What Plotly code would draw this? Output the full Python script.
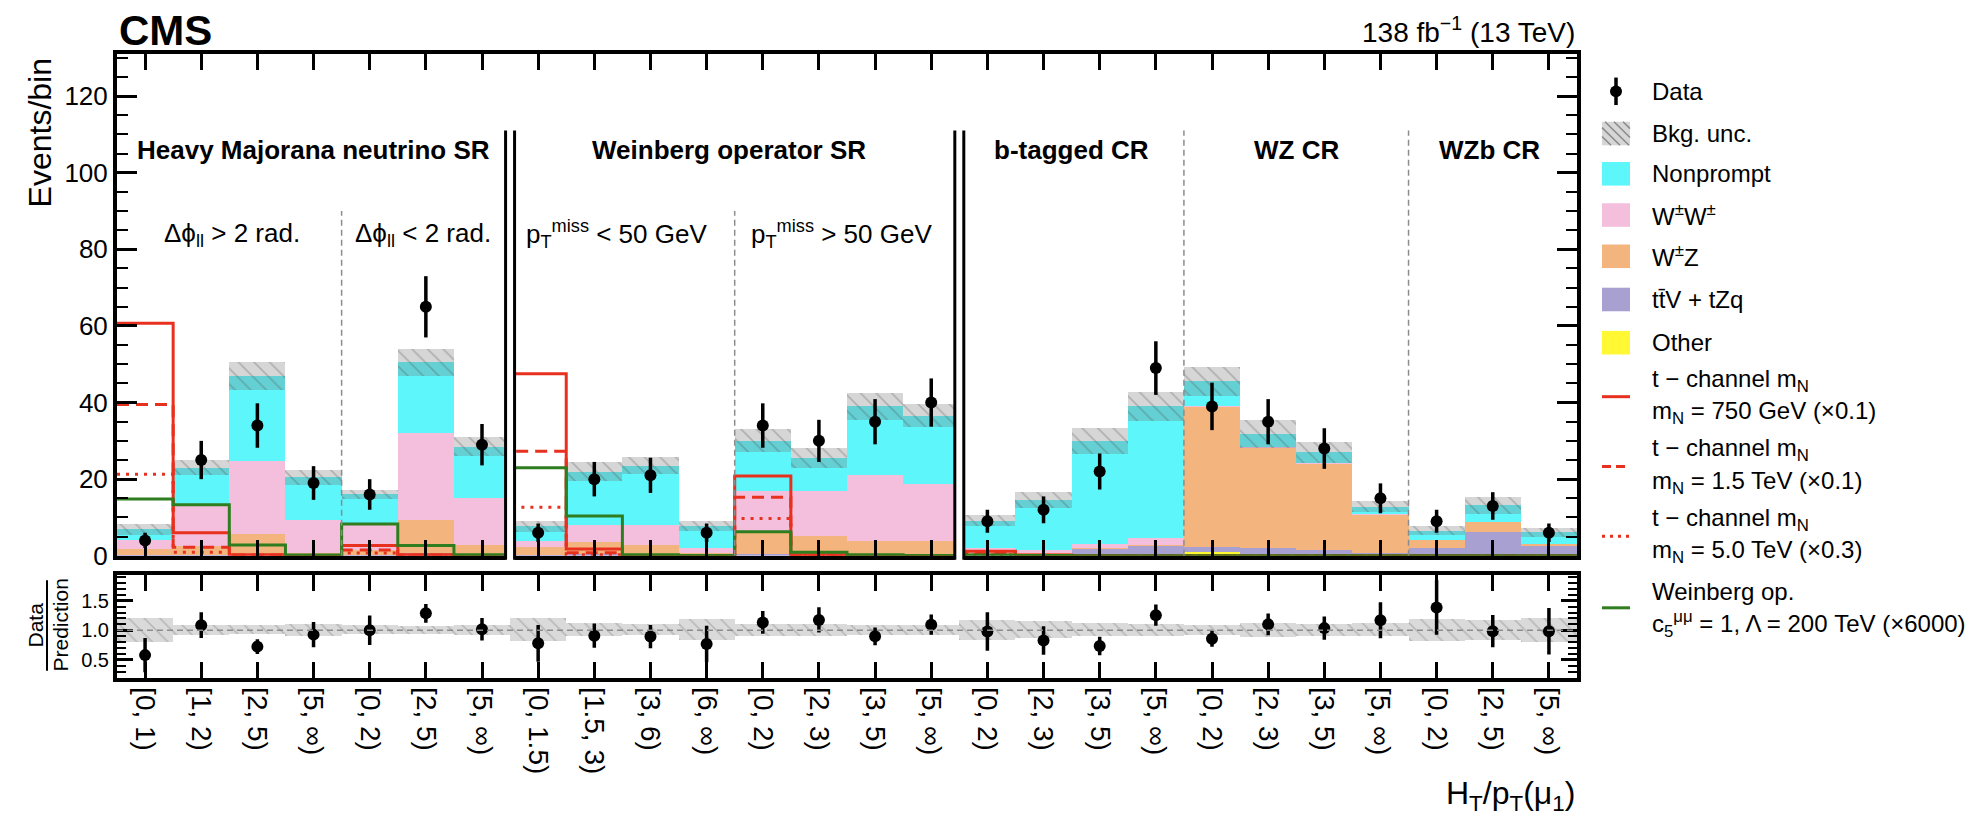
import plotly.graph_objects as go

W, H = 1980, 830

# H_T / p_T(mu1) bins of each region
bin_labels = [
    "[0, 1)", "[1, 2)", "[2, 5)", "[5, ∞)",
    "[0, 2)", "[2, 5)", "[5, ∞)",
    "[0, 1.5)", "[1.5, 3)", "[3, 6)", "[6, ∞)",
    "[0, 2)", "[2, 3)", "[3, 5)", "[5, ∞)",
    "[0, 2)", "[2, 3)", "[3, 5)", "[5, ∞)",
    "[0, 2)", "[2, 3)", "[3, 5)", "[5, ∞)",
    "[0, 2)", "[2, 5)", "[5, ∞)",
]

# background yields per bin
other = [0, 0, 0, 0, 0, 0, 0, 0, 0, 0, 0, 0, 0, 0, 0,
         0, 0, 0, 0, 1.0, 0.2, 0.2, 0.1, 0, 0, 0]
ttv = [0.2, 0.3, 0.5, 0.2, 0.2, 0.8, 0.3, 0.3, 0.5, 0.4, 0.2, 0.5, 0.5, 0.4, 0.4,
       0.4, 0.5, 1.8, 2.6, 1.3, 1.7, 1.2, 0.7, 1.9, 6.1, 2.5]
wz = [1.6, 2.2, 5.1, 0.6, 1.3, 8.6, 2.5, 1.9, 3.0, 2.4, 0.4, 5.6, 4.7, 3.4, 3.4,
      0.2, 0.3, 0.1, 0.1, 36.7, 26.3, 22.6, 10.0, 2.1, 2.7, 0.7]
ww = [2.2, 10.5, 19.1, 8.5, 7.0, 22.6, 12.4, 1.6, 4.5, 5.2, 1.3, 10.9, 11.8, 17.4, 15.0,
      1.3, 0.8, 1.3, 2.0, 0.2, 0.1, 0.1, 0.1, 0.0, 0.0, 0.0]
nonprompt = [2.9, 10.0, 22.3, 11.2, 7.5, 18.5, 13.3, 3.9, 14.0, 15.5, 5.9, 13.0, 8.5, 17.8, 17.7,
             7.3, 12.9, 26.8, 34.3, 6.3, 3.5, 2.9, 1.9, 2.5, 4.4, 2.9]
bkg_unc = [1.4, 2.0, 3.6, 2.0, 1.2, 3.6, 2.4, 1.5, 2.4, 2.2, 1.4, 3.0, 2.7, 3.5, 3.0,
           1.5, 2.1, 3.3, 3.8, 3.7, 3.6, 2.8, 1.4, 1.2, 2.2, 1.2]

# observed events
data = [4, 25, 34, 19, 16, 65, 29, 6, 20, 21, 6, 34, 30, 35, 40,
        9, 12, 22, 49, 39, 35, 28, 15, 9, 13, 6]
data_err = [2.0, 5.0, 5.8, 4.4, 4.0, 8.0, 5.4, 2.4, 4.5, 4.6, 2.4, 5.8, 5.5, 5.9, 6.3,
            3.0, 3.5, 4.7, 7.0, 6.2, 5.9, 5.3, 3.9, 3.0, 3.6, 2.4]

# signal hypotheses (scaled)
sig_750 = [60.7, 6.0, 0.3, 0.1, 2.7, 0.3, 0.1, 47.5, 1.8, 0.1, 0.0, 20.8, 0.3, 0.1, 0.0,
           1.2, 0.2, 0.1, 0.0, 0.0, 0.0, 0.0, 0.0, 0.1, 0.0, 0.0]
sig_1500 = [39.5, 2.2, 0.2, 0.1, 1.5, 0.2, 0.1, 27.3, 0.8, 0.1, 0.0, 15.3, 0.2, 0.1, 0.0,
            0.8, 0.1, 0.0, 0.0, 0.0, 0.0, 0.0, 0.0, 0.0, 0.0, 0.0]
sig_5000 = [21.3, 0.9, 0.1, 0.0, 0.7, 0.1, 0.0, 12.7, 0.3, 0.0, 0.0, 9.7, 0.1, 0.0, 0.0,
            0.3, 0.0, 0.0, 0.0, 0.0, 0.0, 0.0, 0.0, 0.0, 0.0, 0.0]
sig_weinberg = [14.8, 13.3, 2.8, 0.2, 8.3, 2.7, 0.3, 23.0, 10.4, 0.3, 0.1, 6.3, 0.9, 0.3, 0.1,
                0.2, 0.1, 0.0, 0.0, 0.0, 0.0, 0.0, 0.0, 0.0, 0.0, 0.0]

n = len(data)
centers = [i + 0.5 for i in range(n)]
edges = list(range(n + 1))
total = [a + b + c + d + e for a, b, c, d, e in zip(other, ttv, wz, ww, nonprompt)]

# colours
C_NP, C_WW, C_WZ, C_TTV, C_OTH = "#5cf6fb", "#f4bfdc", "#f3b47d", "#a9a0d2", "#fff832"
C_RED, C_GREEN = "#e8301e", "#2e7d1f"
UNC_FILL, UNC_LINE = "rgba(120,120,120,0.30)", "rgba(70,70,70,0.55)"
FONT = "Liberation Sans, Arial, sans-serif"

# page geometry (pixels)
X0, X1 = 117, 1577
MAIN_TOP, MAIN_BOT = 55, 566
RAT_TOP, RAT_BOT = 586, 690
YMAX = 131
RAT_RANGE = [0.2, 1.93]


def pxx(px):
    return px / W


def pxy(py):
    return 1 - py / H


def main_y_paper(v):
    return pxy(MAIN_BOT - v / YMAX * (MAIN_BOT - MAIN_TOP))


fig = go.Figure()

# stacked backgrounds, bottom to top
for vals, col, name in [(other, C_OTH, "Other"), (ttv, C_TTV, "ttV + tZq"), (wz, C_WZ, "WZ"),
                        (ww, C_WW, "WW"), (nonprompt, C_NP, "Nonprompt")]:
    fig.add_trace(go.Bar(x=centers, y=vals, width=1.0, name=name,
                         marker=dict(color=col, line=dict(width=0)),
                         xaxis="x", yaxis="y"))

# background uncertainty band
fig.add_trace(go.Bar(
    x=centers, y=[2 * u for u in bkg_unc], base=[t - u for t, u in zip(total, bkg_unc)],
    width=1.0, name="Bkg. unc.",
    marker=dict(color=UNC_FILL, line=dict(width=0),
                pattern=dict(shape="\\", fgcolor=UNC_LINE, size=11, solidity=0.15, fillmode="overlay")),
    xaxis="x", yaxis="y"))

# signal step histograms
for vals, col, dash in [(sig_750, C_RED, "solid"), (sig_1500, C_RED, "12px,7px"),
                        (sig_5000, C_RED, "3px,6px"), (sig_weinberg, C_GREEN, "solid")]:
    fig.add_trace(go.Scatter(x=edges, y=vals + [vals[-1]], mode="lines", line_shape="hv",
                             line=dict(color=col, width=3, dash=dash),
                             xaxis="x", yaxis="y"))

# data points
fig.add_trace(go.Scatter(x=centers, y=data, mode="markers",
                         marker=dict(color="black", size=12),
                         error_y=dict(type="data", array=data_err, color="black", thickness=3.5, width=0),
                         xaxis="x", yaxis="y"))

# ratio panel
rel_unc = [u / t for u, t in zip(bkg_unc, total)]
fig.add_trace(go.Bar(
    x=centers, y=[2 * r for r in rel_unc], base=[1 - r for r in rel_unc], width=1.0,
    marker=dict(color="rgba(120,120,120,0.28)", line=dict(width=0),
                pattern=dict(shape="\\", fgcolor="rgba(70,70,70,0.45)", size=11, solidity=0.15, fillmode="overlay")),
    xaxis="x2", yaxis="y2"))
fig.add_trace(go.Scatter(
    x=centers, y=[d / t for d, t in zip(data, total)], mode="markers",
    marker=dict(color="black", size=12),
    error_y=dict(type="data", array=[e / t for e, t in zip(data_err, total)],
                 color="black", thickness=3.5, width=0),
    xaxis="x2", yaxis="y2"))

axis_common = dict(showline=True, linewidth=4, linecolor="black", mirror="ticks",
                   ticks="inside", tickcolor="black", showgrid=False, zeroline=False)

fig.update_layout(
    width=W, height=H, autosize=False, margin=dict(l=0, r=0, t=0, b=0),
    paper_bgcolor="white", plot_bgcolor="white",
    barmode="stack", bargap=0, showlegend=False,
    font=dict(family=FONT, color="black", size=26),
    xaxis=dict(domain=[pxx(X0), pxx(X1)], range=[0, n], anchor="y",
               tickmode="array", tickvals=centers, showticklabels=False,
               ticklen=16, tickwidth=2.5, **axis_common),
    yaxis=dict(domain=[pxy(MAIN_BOT), pxy(MAIN_TOP)], range=[0, YMAX], anchor="x",
               tickmode="array", tickvals=[0, 20, 40, 60, 80, 100, 120],
               ticklen=20, tickwidth=2.5, tickfont=dict(size=26),
               minor=dict(tickmode="linear", tick0=0, dtick=5, ticks="inside",
                          ticklen=11, tickwidth=2, tickcolor="black"),
               **axis_common),
    xaxis2=dict(domain=[pxx(X0), pxx(X1)], range=[0, n], anchor="y2",
                tickmode="array", tickvals=centers, ticktext=bin_labels,
                tickangle=90, tickfont=dict(size=28),
                ticklen=16, tickwidth=2.5, **axis_common),
    yaxis2=dict(domain=[pxy(RAT_BOT), pxy(RAT_TOP)], range=RAT_RANGE, anchor="x2",
                tickmode="array", tickvals=[0.5, 1.0, 1.5], ticktext=["0.5", "1.0", "1.5"],
                ticklen=16, tickwidth=2.5, tickfont=dict(size=20),
                minor=dict(tickmode="linear", tick0=0, dtick=0.1, ticks="inside",
                           ticklen=9, tickwidth=2, tickcolor="black"),
                **axis_common),
)

shapes = []
# unity line in the ratio panel
shapes.append(dict(type="line", xref="x2", yref="y2", x0=0, x1=n, y0=1, y1=1,
                   line=dict(color="#8c8c8c", width=1.5, dash="6px,4px"), layer="above"))

# region separators: a white gap framed by two solid lines
for xs in (7, 15):
    d = 0.08
    shapes.append(dict(type="rect", xref="x", yref="y", x0=xs - d, x1=xs + d, y0=0, y1=111,
                       fillcolor="white", line=dict(width=0), layer="above"))
    shapes.append(dict(type="rect", xref="x", yref="paper", x0=xs - d, x1=xs + d,
                       y0=pxy(MAIN_BOT + 5), y1=pxy(MAIN_BOT - 2),
                       fillcolor="white", line=dict(width=0), layer="above"))
    for xl in (xs - d, xs + d):
        shapes.append(dict(type="line", xref="x", yref="paper", x0=xl, x1=xl,
                           y0=pxy(MAIN_BOT + 4), y1=main_y_paper(111),
                           line=dict(color="black", width=3), layer="above"))

# dashed sub-region separators
for xs, top in [(4, 90), (11, 90), (19, 111), (23, 111)]:
    shapes.append(dict(type="line", xref="x", yref="y", x0=xs, x1=xs, y0=0, y1=top,
                       line=dict(color="#8c8c8c", width=1.5, dash="6px,4px"), layer="above"))

annotations = []


def ann(text, x, y, xref="x", yref="y", size=26, xanchor="center", yanchor="middle", angle=0):
    annotations.append(dict(text=text, x=x, y=y, xref=xref, yref=yref, showarrow=False,
                            xanchor=xanchor, yanchor=yanchor, textangle=angle,
                            font=dict(family=FONT, size=size, color="black")))


# region titles
ann("<b>Heavy Majorana neutrino SR</b>", 3.5, 106)
ann("<b>Weinberg operator SR</b>", 10.9, 106)
ann("<b>b-tagged CR</b>", 17.0, 106)
ann("<b>WZ CR</b>", 21.0, 106)
ann("<b>WZb CR</b>", 24.45, 106)
ann("Δϕ<sub>ll</sub> &gt; 2 rad.", 2.05, 84)
ann("Δϕ<sub>ll</sub> &lt; 2 rad.", 5.45, 84)
ann("p<sub>T</sub><sup>miss</sup> &lt; 50 GeV", 8.9, 84)
ann("p<sub>T</sub><sup>miss</sup> &gt; 50 GeV", 12.9, 84)

# header and axis titles
ann("<b>CMS</b>", pxx(X0), pxy(31), "paper", "paper", size=42, xanchor="left")
ann("138 fb<sup>−1</sup> (13 TeV)", pxx(X1), pxy(31), "paper", "paper", size=28, xanchor="right")
ann("Events/bin", pxx(40), pxy(58), "paper", "paper", size=32, yanchor="top", angle=-90)
ann("H<sub>T</sub>/p<sub>T</sub>(μ<sub>1</sub>)", pxx(X1), pxy(810), "paper", "paper",
    size=32, xanchor="right")
ann("Data", pxx(35), pxy(637), "paper", "paper", size=21, angle=-90)
ann("Prediction", pxx(60), pxy(637), "paper", "paper", size=21, angle=-90)
shapes.append(dict(type="line", xref="paper", yref="paper", x0=pxx(47), x1=pxx(47),
                   y0=pxy(591), y1=pxy(683), line=dict(color="black", width=2)))

# legend
LX0, LX1, LTX = 1602, 1630, 1650
LSIZE = 24


def swatch(py, col):
    shapes.append(dict(type="rect", xref="paper", yref="paper",
                       x0=pxx(LX0), x1=pxx(LX1), y0=pxy(py + 12), y1=pxy(py - 12),
                       fillcolor=col, line=dict(width=0)))


def line_key(py, col, dash):
    shapes.append(dict(type="line", xref="paper", yref="paper",
                       x0=pxx(LX0), x1=pxx(LX1), y0=pxy(py), y1=pxy(py),
                       line=dict(color=col, width=3, dash=dash)))


# Data
ymid = 93
xm = (LX0 + LX1) / 2
shapes.append(dict(type="line", xref="paper", yref="paper", x0=pxx(xm), x1=pxx(xm),
                   y0=pxy(ymid + 14), y1=pxy(ymid - 14), line=dict(color="black", width=3.5)))
shapes.append(dict(type="circle", xref="paper", yref="paper", x0=pxx(xm - 6), x1=pxx(xm + 6),
                   y0=pxy(ymid + 6), y1=pxy(ymid - 6), fillcolor="black", line=dict(width=0)))
ann("Data", pxx(LTX), pxy(ymid), "paper", "paper", size=LSIZE, xanchor="left")

# Bkg. unc. (hatched)
ymid = 136
top, bot = ymid - 12, ymid + 12
swatch(ymid, "#d6d6d6")
c = LX0 - bot
while c < LX1 - top:
    ya, yb = max(top, LX0 - c), min(bot, LX1 - c)
    if yb > ya:
        shapes.append(dict(type="line", xref="paper", yref="paper",
                           x0=pxx(ya + c), x1=pxx(yb + c), y0=pxy(ya), y1=pxy(yb),
                           line=dict(color="#8a8a8a", width=1.5)))
    c += 9
ann("Bkg. unc.", pxx(LTX), pxy(ymid), "paper", "paper", size=LSIZE, xanchor="left")

for ymid, col, label in [(177, C_NP, "Nonprompt"),
                         (219, C_WW, "W<sup>±</sup>W<sup>±</sup>"),
                         (261, C_WZ, "W<sup>±</sup>Z"),
                         (305, C_TTV, "tt\u0304V + tZq"),
                         (349, C_OTH, "Other")]:
    swatch(ymid, col)
    ann(label, pxx(LTX), pxy(ymid), "paper", "paper", size=LSIZE, xanchor="left")

for ymid, col, dash, l1, l2 in [
        (404, C_RED, "solid", "t − channel m<sub>N</sub>", "m<sub>N</sub> = 750 GeV (×0.1)"),
        (475, C_RED, "9px,5px", "t − channel m<sub>N</sub>", "m<sub>N</sub> = 1.5 TeV (×0.1)"),
        (546, C_RED, "3px,5px", "t − channel m<sub>N</sub>", "m<sub>N</sub> = 5.0 TeV (×0.3)"),
        (619, C_GREEN, "solid", "Weinberg op.",
         "c<sub>5</sub><sup>μμ</sup> = 1, Λ = 200 TeV (×6000)")]:
    line_key(ymid, col, dash)
    ann(l1, pxx(LTX), pxy(ymid - 17), "paper", "paper", size=LSIZE, xanchor="left")
    ann(l2, pxx(LTX), pxy(ymid + 16), "paper", "paper", size=LSIZE, xanchor="left")

fig.update_layout(shapes=shapes, annotations=annotations)
fig.write_html("out.html")
